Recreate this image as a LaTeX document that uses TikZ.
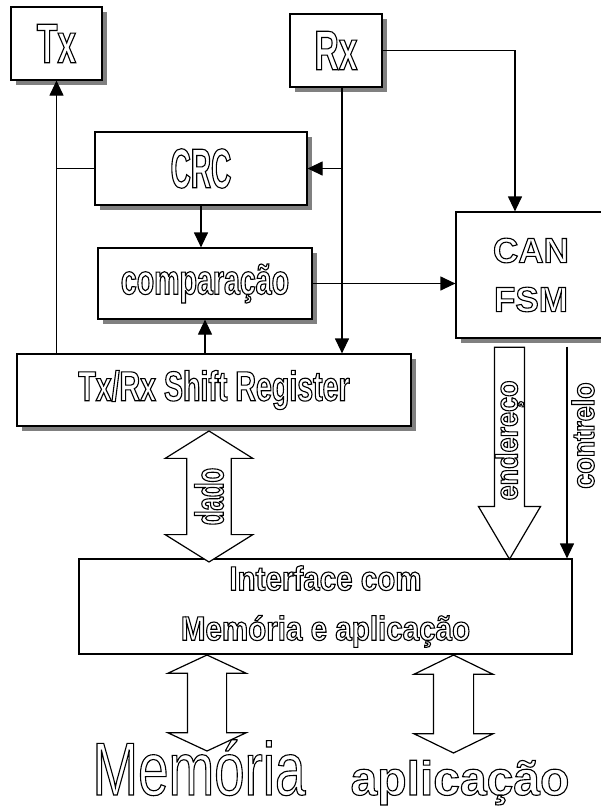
\documentclass[tikz,border=0pt]{standalone}
\usepackage{fontspec}
\usepackage{xcolor}
\usepackage{tikz}
\usetikzlibrary{positioning,arrows.meta,shapes.arrows,shadows,calc}
\setmainfont{Liberation Sans}
\newfontfamily\crcfont[FakeStretch=0.5]{Liberation Sans}
\newfontfamily\condfont[FakeStretch=0.6]{Liberation Sans}
\newfontfamily\narrowfont[FakeStretch=0.68]{Liberation Sans}
\newfontfamily\ifacefont[FakeStretch=0.87]{Liberation Sans}
\newfontfamily\memfont[FakeStretch=0.73]{Liberation Sans}
% outlined text: stroke only
\newcommand{\otext}[1]{\special{pdf:literal direct 0 G 1.1 w 1 Tr}#1\special{pdf:literal direct 0 Tr}}
\tikzset{
  blk/.style={rectangle, draw=black, line width=1.2pt, fill=white, align=center, inner sep=0pt,
    drop shadow={shadow xshift=5pt, shadow yshift=-5pt, fill=black!50, opacity=1}},
  plainblk/.style={rectangle, draw=black, line width=1.2pt, fill=white, align=center, inner sep=0pt},
  flow/.style={-{Triangle[length=15pt, width=14pt]}, line width=1.2pt},
  wire/.style={line width=1.2pt},
  fat/.style={draw=black, line width=1.2pt, fill=white},
  % fonts
  bigtxt/.style={font=\condfont\bfseries\fontsize{56}{60}\selectfont},
  crctxt/.style={font=\crcfont\bfseries\fontsize{56}{60}\selectfont},
  midtxt/.style={font=\narrowfont\bfseries\fontsize{42}{46}\selectfont},
  fsmtxt/.style={font=\bfseries\fontsize{35}{49}\selectfont},
  ifacetxt/.style={font=\ifacefont\bfseries\fontsize{34}{50}\selectfont},
  bustxt/.style={font=\ifacefont\bfseries\fontsize{31}{34}\selectfont},
}

\begin{document}
\begin{tikzpicture}[x=1pt, y=1pt]
\fill[white] (0,0) rectangle (601,-812);
\useasboundingbox (0,0) rectangle (601,-812);
% ---- blocks ----
\node[blk, bigtxt, minimum width=91pt, minimum height=73pt] (tx) at (56.5,-43.5) {\otext{Tx}};
\node[blk, bigtxt, minimum width=92pt, minimum height=73pt] (rx) at (336,-50.5) {\otext{Rx}};
\node[blk, crctxt, minimum width=212pt, minimum height=73pt] (crc) at (201,-168.5) {\otext{CRC}};
\node[blk, midtxt, minimum width=214pt, minimum height=71pt] (cmp) at (205,-283.5) {\otext{comparação}};
\node[blk, fsmtxt, minimum width=150pt, minimum height=126pt] (fsm) at (531,-275) {\otext{CAN}\\\otext{FSM}};
\node[blk, midtxt, minimum width=394pt, minimum height=72pt] (sr) at (214,-390) {\otext{Tx/Rx Shift Register}};
\node[plainblk, ifacetxt, minimum width=493pt, minimum height=95pt] (iface) at (325.5,-606.5)
  {\otext{Interface com}\\\otext{Memória e aplicação}};
% ---- signals ----
\coordinate (rxout) at ([xshift=6pt]rx.south);
\draw[flow] (tx.south |- sr.north) -- (tx.south);
\draw[wire] (crc.west) -- (crc.west -| tx.south);
\draw[flow] (rxout) -- (rxout |- sr.north);
\draw[flow] (crc.east -| rxout) -- (crc.east);
\draw[flow] (rx.east) -| ([xshift=-16pt]fsm.north);
\draw[flow] (crc.south) -- (crc.south |- cmp.north);
\draw[flow] (cmp.south |- sr.north) -- (cmp.south);
\draw[flow] (cmp.east) -- (cmp.east -| fsm.west);
\coordinate (ctl) at ([xshift=36pt, yshift=-8pt]fsm.south);
\draw[flow] (ctl) -- node[pos=0.42, rotate=90, below, bustxt, inner sep=4pt] (ctllbl) {\otext{contrelo}} (ctl |- iface.north);
% ---- buses ----
\coordinate (adrtop) at ([xshift=-21.5pt, yshift=-8pt]fsm.south);
\node[fat, single arrow, rotate=90, shape border rotate=180, minimum height=212pt,
  single arrow head extend=16pt, single arrow tip angle=61, inner xsep=2pt, inner ysep=0pt, bustxt,
  anchor=tail] (adr) at (adrtop) {\otext{endereço}};
\node[fat, double arrow, rotate=90, minimum height=131pt, double arrow head extend=21.5pt,
  double arrow tip angle=116, inner xsep=2pt, inner ysep=7pt,
  font=\condfont\bfseries\fontsize{40}{44}\selectfont] (dado) at (209,-496.5) {\otext{dado}};
\node[fat, double arrow, rotate=90, minimum height=96pt, double arrow head extend=19.5pt,
  double arrow tip angle=130, inner sep=19pt] (memarr) at (207,-703) {};
\node[fat, double arrow, rotate=90, minimum height=98pt, double arrow head extend=19.5pt,
  double arrow tip angle=128, inner sep=19.5pt] (apparr) at (453.5,-704) {};
% ---- outside ----
\node[anchor=base, inner sep=0pt, font=\memfont\fontsize{75}{78}\selectfont] (mem) at (199,-795) {\otext{Memória}};
\node[anchor=base, inner sep=0pt, font=\bfseries\fontsize{48}{52}\selectfont] (app) at (460,-795) {\otext{aplicação}};
\end{tikzpicture}
\end{document}
